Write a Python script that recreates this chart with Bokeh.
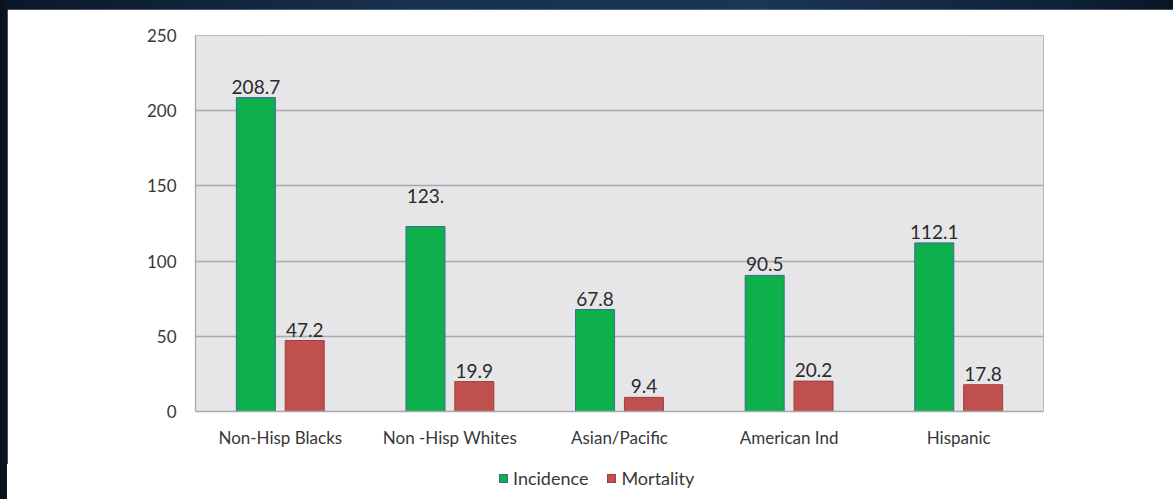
from bokeh.plotting import figure
from bokeh.models import ColumnDataSource, FactorRange, FixedTicker, Div
from bokeh.transform import dodge
from bokeh.layouts import column
from bokeh.core.properties import value
from bokeh.embed import file_html
from bokeh.resources import INLINE

# Rates per 100,000 by population group
groups = ["Non-Hisp Blacks", "Non -Hisp Whites", "Asian/Pacific", "American Ind", "Hispanic"]
incidence = [208.7, 123.0, 67.8, 90.5, 112.1]
mortality = [47.2, 19.9, 9.4, 20.2, 17.8]
incidence_text = ["208.7", "123.", "67.8", "90.5", "112.1"]
mortality_text = ["47.2", "19.9", "9.4", "20.2", "17.8"]
y_ticks = [0, 50, 100, 150, 200, 250]
series_names = ["Incidence", "Mortality"]

# extra vertical lift (px) for individual incidence labels
incidence_lift = [0, 20, 0, 0, 0]

FONT = "Lato"
GREEN = "#0eb04c"
RED = "#c0504d"
GREEN_EDGE = "#3d6a96"
RED_EDGE = "#a23f3c"
GRID = "#a9a9ab"
TEXT = "#383838"

src = ColumnDataSource(dict(
    group=groups,
    incidence=incidence,
    mortality=mortality,
    inc_text=incidence_text,
    mor_text=mortality_text,
    inc_off=[-4 - v for v in incidence_lift],
))

p = figure(
    x_range=FactorRange(*groups),
    y_range=(0, 250),
    width=1166, height=455,
    min_border_left=188, min_border_right=130,
    min_border_top=26, min_border_bottom=53,
    output_backend="svg", toolbar_location=None,
    background_fill_color="#e6e6e8",
    border_fill_color="white",
    outline_line_color=None,
)
p.margin = (9, 0, 0, 7)

OFF = 0.144
W = 0.23
p.vbar(x=dodge("group", -OFF, range=p.x_range), top="incidence", width=W,
       source=src, fill_color=GREEN, line_color=GREEN_EDGE, line_width=1)
p.vbar(x=dodge("group", OFF, range=p.x_range), top="mortality", width=W,
       source=src, fill_color=RED, line_color=RED_EDGE, line_width=1)

p.text(x=dodge("group", -OFF, range=p.x_range), y="incidence", text="inc_text",
       y_offset="inc_off", source=src, text_align="center", text_baseline="bottom",
       text_font=value(FONT), text_font_size="19px", text_color="#2b2b2b")
p.text(x=dodge("group", OFF, range=p.x_range), y="mortality", text="mor_text",
       y_offset=-4, source=src, text_align="center", text_baseline="bottom",
       text_font=value(FONT), text_font_size="19px", text_color="#2b2b2b")

# axes
p.yaxis.ticker = FixedTicker(ticks=y_ticks)
p.yaxis.axis_line_color = GRID
p.yaxis.axis_line_width = 1.3
p.yaxis.major_tick_line_color = None
p.yaxis.minor_tick_line_color = None
p.yaxis.major_label_standoff = 13
p.yaxis.major_label_text_font = FONT
p.yaxis.major_label_text_font_size = "17px"
p.yaxis.major_label_text_color = TEXT

p.xaxis.axis_line_color = GRID
p.xaxis.axis_line_width = 1.3
p.xaxis.major_tick_line_color = None
p.xaxis.minor_tick_line_color = None
p.xaxis.major_label_standoff = 9
p.xaxis.major_label_text_font = FONT
p.xaxis.major_label_text_font_size = "17px"
p.xaxis.major_label_text_color = TEXT

p.xgrid.grid_line_color = None
p.ygrid.ticker = FixedTicker(ticks=y_ticks)
p.ygrid.grid_line_color = GRID
p.ygrid.grid_line_width = 1.3

# legend strip underneath the chart
def swatch(fill, edge):
    return (f'<span style="display:inline-block;width:9px;height:9px;'
            f'background:{fill};border:1px solid {edge};margin-right:5px;"></span>')

legend_html = (
    f'<div style="position:absolute;left:492px;top:4px;display:flex;align-items:center;'
    f'font-family:{FONT};font-size:18px;color:{TEXT};line-height:20px;white-space:nowrap;">'
    f'{swatch(GREEN, GREEN_EDGE)}<span>{series_names[0]}</span>'
    f'<span style="display:inline-block;width:19px;"></span>'
    f'{swatch(RED, RED_EDGE)}<span>{series_names[1]}</span></div>'
)
leg = Div(text=legend_html, width=1166, height=35,
          styles={"background": "white", "position": "relative"})
leg.margin = (0, 0, 0, 7)

page = column(p, leg, spacing=0, styles={
    "background": "linear-gradient(90deg, #08121d 0%, #0b1829 1%, #17314f 35%, "
                  "#1a3556 65%, #0e2036 92%, #0a1524 100%)",
})

open("out.html", "w").write(file_html(page, INLINE))
